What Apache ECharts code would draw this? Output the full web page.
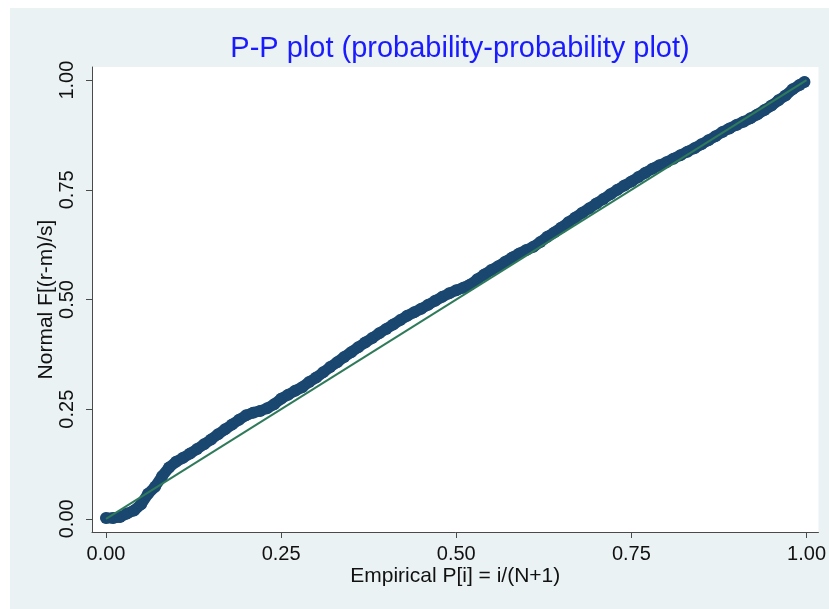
<!DOCTYPE html>
<html>
<head>
<meta charset="utf-8">
<script src="https://cdn.jsdelivr.net/npm/echarts@6/dist/echarts.min.js"></script>
<style>
  html, body { margin: 0; padding: 0; background: #ffffff; }
  #wrap { position: relative; width: 829px; height: 609px; background: #ffffff; overflow: hidden; }
  #bg { position: absolute; left: 10px; top: 8px; width: 819px; height: 601px; background: #eaf2f3; }
  #chart { position: absolute; left: 0; top: 0; width: 829px; height: 609px; }
</style>
</head>
<body>
<div id="wrap"><div id="bg"></div><div id="chart"></div></div>
<script>
// Empirical P[i] (x) and Normal F[(r-m)/s] (y)
const empiricalP = [
  0.00, 0.01, 0.02, 0.03, 0.04, 0.05, 0.06, 0.07, 0.08, 0.09,
  0.10, 0.11, 0.12, 0.13, 0.14, 0.15, 0.16, 0.17, 0.18, 0.19,
  0.20, 0.21, 0.22, 0.23, 0.24, 0.25, 0.26, 0.27, 0.28, 0.29,
  0.30, 0.31, 0.32, 0.33, 0.34, 0.35, 0.36, 0.37, 0.38, 0.39,
  0.40, 0.41, 0.42, 0.43, 0.44, 0.45, 0.46, 0.47, 0.48, 0.49,
  0.50, 0.51, 0.52, 0.53, 0.54, 0.55, 0.56, 0.57, 0.58, 0.59,
  0.60, 0.61, 0.62, 0.63, 0.64, 0.65, 0.66, 0.67, 0.68, 0.69,
  0.70, 0.71, 0.72, 0.73, 0.74, 0.75, 0.76, 0.77, 0.78, 0.79,
  0.80, 0.81, 0.82, 0.83, 0.84, 0.85, 0.86, 0.87, 0.88, 0.89,
  0.90, 0.91, 0.92, 0.93, 0.94, 0.95, 0.96, 0.97, 0.98, 0.99,
  0.997
];
const normalF = [
  0.002, 0.002, 0.004, 0.012, 0.019, 0.033, 0.057, 0.073, 0.097, 0.117,
  0.130, 0.139, 0.149, 0.159, 0.170, 0.181, 0.193, 0.204, 0.215, 0.226,
  0.236, 0.242, 0.246, 0.252, 0.261, 0.274, 0.283, 0.292, 0.300, 0.312,
  0.322, 0.334, 0.346, 0.357, 0.369, 0.380, 0.391, 0.402, 0.412, 0.423,
  0.433, 0.443, 0.453, 0.463, 0.471, 0.479, 0.488, 0.497, 0.506, 0.514,
  0.521, 0.527, 0.534, 0.546, 0.557, 0.567, 0.576, 0.586, 0.596, 0.605,
  0.613, 0.620, 0.631, 0.643, 0.653, 0.664, 0.676, 0.687, 0.698, 0.708,
  0.719, 0.729, 0.740, 0.750, 0.760, 0.769, 0.779, 0.789, 0.798, 0.806,
  0.813, 0.821, 0.829, 0.837, 0.845, 0.854, 0.863, 0.872, 0.882, 0.890,
  0.898, 0.905, 0.913, 0.922, 0.932, 0.942, 0.954, 0.965, 0.979, 0.989,
  0.996
];
// Reference line y = x
const refX = [0, 1];
const refY = [0, 1];
// Tick values
const xTicks = [0, 0.25, 0.5, 0.75, 1];
const yTicks = [0, 0.25, 0.5, 0.75, 1];

const titleText = 'P-P plot (probability-probability plot)';
const xName = 'Empirical P[i] = i/(N+1)';
const yName = 'Normal F[(r-m)/s]';

const FONT = '"Liberation Sans", Arial, sans-serif';
const NAVY = '#1a476f';
const chart = echarts.init(document.getElementById('chart'), null, { renderer: 'canvas' });

const points = empiricalP.map((x, i) => [x, normalF[i]]);

const option = {
  backgroundColor: 'transparent',
  animation: false,
  title: {
    text: titleText,
    left: 455,
    textAlign: 'center',
    top: 29,
    textStyle: { color: '#1a1aff', fontFamily: FONT, fontSize: 29, fontWeight: 'normal' }
  },
  grid: {
    left: 92, top: 67, right: 10, bottom: 77,
    show: true, backgroundColor: '#ffffff', borderWidth: 0,
    containLabel: false
  },
  xAxis: {
    type: 'value',
    min: -0.02, max: 1.017,
    name: xName,
    nameLocation: 'middle',
    nameGap: 34,
    nameMoveOverlap: false,
    nameTextStyle: { color: '#111111', fontFamily: FONT, fontSize: 21 },
    axisLine: { show: true, onZero: false, lineStyle: { color: '#4a4a4a', width: 1 } },
    axisTick: { show: true, length: 6, customValues: xTicks, lineStyle: { color: '#4a4a4a' } },
    axisLabel: {
      customValues: xTicks, margin: 12,
      color: '#111111', fontFamily: FONT, fontSize: 20,
      formatter: v => v.toFixed(2)
    },
    splitLine: { show: false }
  },
  yAxis: {
    type: 'value',
    min: -0.03, max: 1.03,
    name: yName,
    nameLocation: 'middle',
    nameRotate: 90,
    nameGap: 35,
    nameMoveOverlap: false,
    nameTextStyle: { color: '#111111', fontFamily: FONT, fontSize: 21 },
    axisLine: { show: true, onZero: false, lineStyle: { color: '#4a4a4a', width: 1 } },
    axisTick: { show: true, length: 6, customValues: yTicks, lineStyle: { color: '#4a4a4a' } },
    axisLabel: {
      customValues: yTicks, margin: 15, rotate: 90,
      color: '#111111', fontFamily: FONT, fontSize: 20,
      formatter: v => v.toFixed(2)
    },
    splitLine: { show: false }
  },
  series: [
    {
      type: 'line',
      data: points,
      showSymbol: false,
      symbol: 'none',
      lineStyle: { color: NAVY, width: 11, cap: 'round', join: 'round' },
      z: 1,
      silent: true
    },
    {
      type: 'scatter',
      data: points,
      symbol: 'circle',
      symbolSize: 12,
      itemStyle: { color: NAVY, opacity: 1, borderWidth: 0 },
      z: 2
    },
    {
      type: 'line',
      data: refX.map((x, i) => [x, refY[i]]),
      showSymbol: false,
      symbol: 'none',
      lineStyle: { color: '#2f7a5a', width: 2 },
      z: 3
    }
  ]
};
chart.setOption(option);
</script>
</body>
</html>
